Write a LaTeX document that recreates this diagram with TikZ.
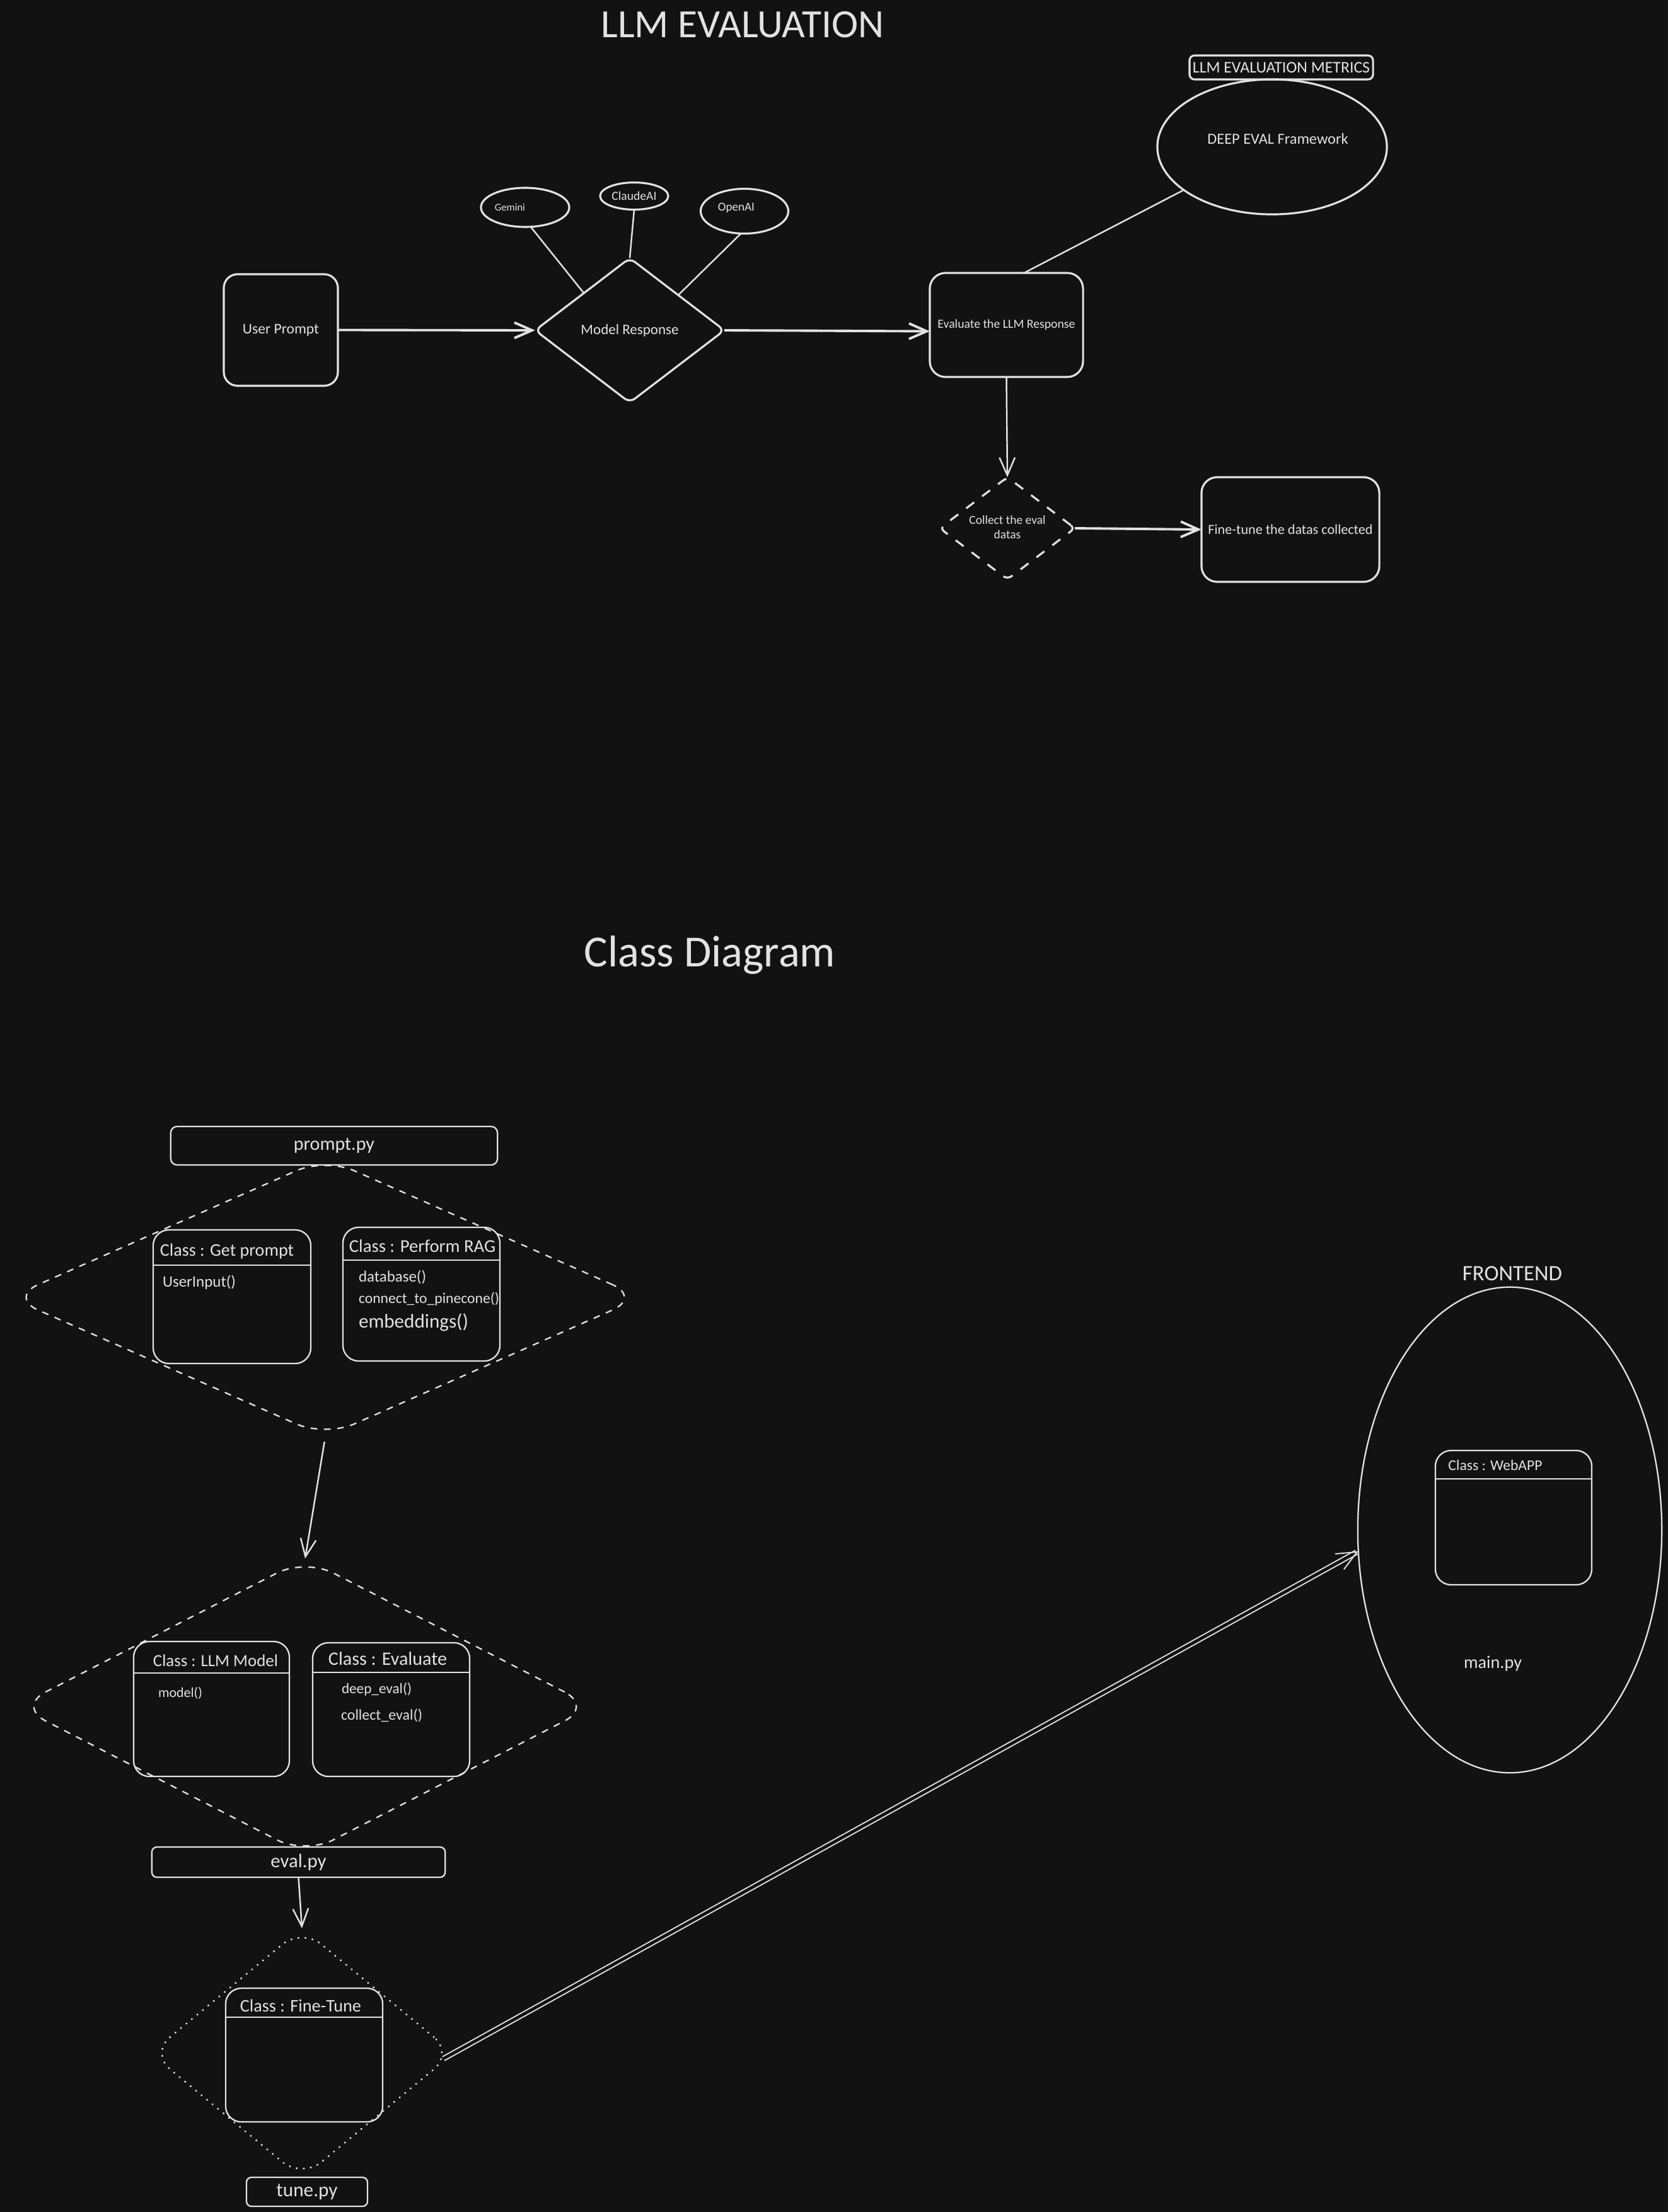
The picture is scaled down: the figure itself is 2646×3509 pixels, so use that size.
\documentclass[tikz,border=0pt]{standalone}
\usepackage{fontspec}
\setmainfont{Carlito}
\usepackage{graphicx}
\usetikzlibrary{shapes.geometric,arrows.meta}
\definecolor{bg}{HTML}{121212}
\definecolor{ink}{HTML}{E2E2E2}
\newcommand\tw[2]{\resizebox{#1cm}{!}{#2}}
\begin{document}
\begin{tikzpicture}[x=0.01cm,y=-0.01cm,
  every node/.style={text=ink, inner sep=0pt, outer sep=0pt},
  shp/.style={draw=ink, line width=0.9pt},
  thn/.style={draw=ink, line width=0.65pt},
  rbox/.style={shp, rectangle, rounded corners=#1},
  lbox/.style={thn, rectangle, rounded corners=#1},
  classbox/.style={thn, rectangle, rounded corners=0.25cm},
  ell/.style={shp, ellipse},
  dia/.style={shape=diamond},
  dashA/.style={dash pattern=on 4.5pt off 4.5pt},
  dashB/.style={dash pattern=on 3pt off 3pt},
  dotB/.style={line cap=round, dash pattern=on 0.1pt off 3.1pt, line width=0.9pt},
  tip/.style={-{Straight Barb[length=8pt,width=7pt]}},
  arr/.style={draw=ink, line width=1.1pt, tip},
  arrthin/.style={draw=ink, line width=0.7pt, tip},
  ln/.style={draw=ink, line width=0.7pt},
  dbl/.style={draw=ink, line width=0.55pt, double=bg, double distance=1.4pt, -{Straight Barb[length=9pt,width=8pt]}}
]
\fill[bg] (0,0) rectangle (2646,3509);
\useasboundingbox (0,0) rectangle (2646,3509);

% ---------- LLM EVALUATION ----------
\node (title) at (1178,39) {\tw{4.49}{LLM EVALUATION}};

\node[rbox=0.08cm, minimum width=2.91cm, minimum height=0.38cm] (metrics) at (2032.5,107) {\tw{2.81}{LLM EVALUATION METRICS}};
\node[ell, minimum width=3.64cm, minimum height=2.14cm,
  label={[xshift=0.09cm,yshift=0.13cm]center:\tw{2.23}{DEEP EVAL Framework}}] (deep) at (2018,233) {};

\node[ell, minimum width=1.40cm, minimum height=0.62cm,
  label={[xshift=-0.24cm]center:\tw{0.48}{Gemini}}] (gem) at (833,329) {};
\node[ell, minimum width=1.08cm, minimum height=0.43cm] (cl) at (1006,311) {\tw{0.71}{ClaudeAI}};
\node[ell, minimum width=1.39cm, minimum height=0.71cm,
  label={[xshift=-0.13cm,yshift=0.05cm]center:\tw{0.58}{OpenAI}}] (oa) at (1181,335) {};

\node[rbox=0.22cm, minimum width=1.81cm, minimum height=1.77cm] (up) at (445.5,523.5) {\tw{1.21}{User Prompt}};
\node[shp, dia, aspect=1.31, rounded corners=0.1cm, minimum width=3.00cm, minimum height=2.29cm] (mr) at (999,524) {\tw{1.55}{Model Response}};
\node[rbox=0.25cm, minimum width=2.43cm, minimum height=1.65cm] (ev) at (1596.5,515.5) {\tw{2.18}{Evaluate the LLM Response}};
\node[shp, dashA, dia, aspect=1.32, rounded corners=0.08cm, minimum width=2.14cm, minimum height=1.62cm] (cd) at (1598,838)
  {\tw{1.21}{\begin{tabular}{@{}c@{}}Collect the eval\\datas\end{tabular}}};
\node[rbox=0.25cm, minimum width=2.82cm, minimum height=1.66cm] (ft) at (2047,840) {\tw{2.61}{Fine-tune the datas collected}};

\draw[arr] (up.east) -- (mr.west);
\draw[arr] (mr.east) -- ([yshift=-0.1cm]ev.west);
\draw[arrthin] (ev.south) -- (cd.north);
\draw[arr] (cd.east) -- (ft.west);
\draw[ln] ([xshift=0.28cm]ev.north) -- (deep.206);
\draw[ln] (gem.-74) -- (mr.141);
\draw[ln] (cl.south) -- (mr.north);
\draw[ln] (oa.-99) -- (mr.36);

% ---------- Class Diagram ----------
\node (title2) at (1126,1515) {\tw{3.98}{Class Diagram}};

\node[lbox=0.1cm, minimum width=5.18cm, minimum height=0.61cm] (promptpy) at (530,1817.5) {\tw{1.28}{prompt.py}};
\node[thn, dashB, dia, aspect=2.27, rounded corners=0.5cm, minimum width=10.02cm, minimum height=4.42cm] (pd) at (516,2058) {};

\node[classbox, minimum width=2.50cm, minimum height=2.12cm] (gp) at (368,2057) {};
\draw[thn] ([yshift=-0.56cm]gp.north west) -- ([yshift=-0.56cm]gp.north east);
\node (gpt) at (360,1985) {\tw{2.12}{Class : Get prompt}};
\node[anchor=west] (gpm1) at (258,2034) {\tw{1.16}{UserInput()}};

\node[classbox, minimum width=2.49cm, minimum height=2.12cm] (rag) at (668.5,2053) {};
\draw[thn] ([yshift=-0.52cm]rag.north west) -- ([yshift=-0.52cm]rag.north east);
\node (ragt) at (670,1977) {\tw{2.32}{Class : Perform RAG}};
\node[anchor=west] (ragm1) at (569,2026) {\tw{1.07}{database()}};
\node[anchor=west] (ragm2) at (569,2061) {\tw{2.23}{connect\_to\_pinecone()}};
\node[anchor=west] (ragm3) at (569,2098) {\tw{1.74}{embeddings()}};

\node[thn, dashB, dia, aspect=1.94, rounded corners=0.5cm, minimum width=9.12cm, minimum height=4.69cm] (ed) at (484,2707) {};
\draw[arrthin, shorten <=0.08cm] (pd.south) -- (ed.north);

\node[classbox, minimum width=2.47cm, minimum height=2.14cm] (llm) at (335.5,2711) {};
\draw[thn] ([yshift=-0.50cm]llm.north west) -- ([yshift=-0.50cm]llm.north east);
\node (llmt) at (342,2634) {\tw{1.98}{Class : LLM Model}};
\node[anchor=west] (llmm1) at (251,2686) {\tw{0.70}{model()}};

\node[classbox, minimum width=2.49cm, minimum height=2.12cm] (evc) at (620.5,2712) {};
\draw[thn] ([yshift=-0.47cm]evc.north west) -- ([yshift=-0.47cm]evc.north east);
\node (evct) at (615,2631) {\tw{1.88}{Class : Evaluate}};
\node[anchor=west] (evcm1) at (542,2680) {\tw{1.11}{deep\_eval()}};
\node[anchor=west] (evcm2) at (541,2721) {\tw{1.29}{collect\_eval()}};

\node[lbox=0.08cm, minimum width=4.65cm, minimum height=0.48cm] (evalpy) at (473.5,2954) {\tw{0.88}{eval.py}};

\node[thn, dotB, dia, aspect=1.21, rounded corners=0.4cm, minimum width=4.80cm, minimum height=3.96cm] (td) at (479,3257) {};
\draw[arrthin] (evalpy.south) -- (td.north);

\node[classbox, minimum width=2.49cm, minimum height=2.12cm] (ftc) at (482.5,3260) {};
\draw[thn] ([yshift=-0.46cm]ftc.north west) -- ([yshift=-0.46cm]ftc.north east);
\node (ftct) at (477,3182) {\tw{1.92}{Class : Fine-Tune}};

\node[lbox=0.08cm, minimum width=1.92cm, minimum height=0.46cm] (tunepy) at (487,3477) {\tw{0.97}{tune.py}};

% ---------- Frontend ----------
\node (fet) at (2399,2020) {\tw{1.58}{FRONTEND}};
\node[thn, ellipse, minimum width=4.82cm, minimum height=7.70cm] (fe) at (2395,2427) {};
\node[classbox, minimum width=2.48cm, minimum height=2.13cm] (web) at (2401,2407.5) {};
\draw[thn] ([yshift=-0.45cm]web.north west) -- ([yshift=-0.45cm]web.north east);
\node (webt) at (2372,2324) {\tw{1.49}{Class : WebAPP}};
\node (mainpy) at (2368,2639) {\tw{0.92}{main.py}};

\draw[dbl, shorten <=-0.18cm] (td.east) -- (fe.188);
\end{tikzpicture}
\end{document}
